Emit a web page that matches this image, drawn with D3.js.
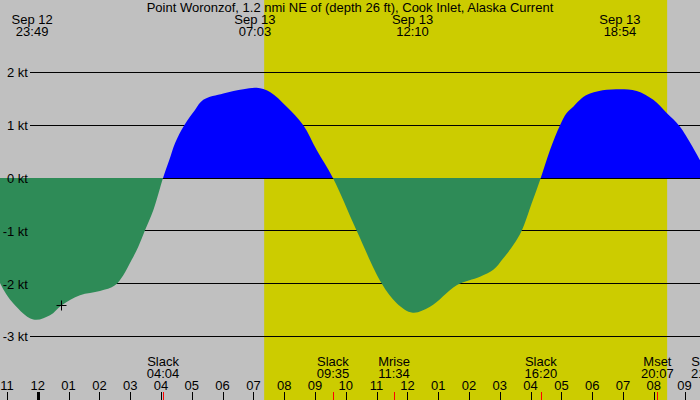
<!DOCTYPE html>
<html>
<head>
<meta charset="utf-8">
<script src="https://cdn.jsdelivr.net/npm/d3@7"></script>
<style>
body { margin: 0; }
svg { display: block; }
text { font-family: "Liberation Sans", Arial, sans-serif; font-size: 13px; fill: #000; }
</style>
</head>
<body>
<div id="chart"></div>
<script>
var title = "Point Woronzof, 1.2 nmi NE of (depth 26 ft), Cook Inlet, Alaska Current";

// hours counted from midnight Sep 13, current in knots (flood +, ebb -)
var hours = [-1.227, -0.903, -0.146, 0.396, 0.776, 1.370, 2.019, 2.506, 2.776, 3.049, 3.263, 3.474, 3.750, 4.067,
             4.269, 4.455, 4.756, 5.104, 5.373, 6.023, 6.672, 7.107, 7.539, 8.081, 8.620, 9.055, 9.583,
             10.354, 11.166, 11.653, 12.172, 12.734, 13.600, 14.357, 14.789, 15.114, 15.438, 15.711, 16.036, 16.330,
             16.630, 16.955, 17.172, 17.386, 17.659, 17.929, 18.471, 18.903, 19.445, 19.984, 20.419, 20.851, 21.500];
var knots = [-1.99, -2.30, -2.68, -2.60, -2.41, -2.22, -2.14, -2.03, -1.84, -1.55, -1.30, -1.00, -0.61, 0,
             0.34, 0.66, 1.00, 1.29, 1.48, 1.60, 1.68, 1.71, 1.63, 1.35, 1.00, 0.53, 0,
             -1.00, -2.00, -2.37, -2.55, -2.44, -2.03, -1.87, -1.74, -1.52, -1.27, -1.00, -0.48, 0,
             0.53, 1.00, 1.23, 1.35, 1.51, 1.60, 1.67, 1.68, 1.65, 1.48, 1.23, 0.97, 0.34];

var maxDays = ["Sep 12", "Sep 13", "Sep 13", "Sep 13"];
var maxTimes = ["23:49", "07:03", "12:10", "18:54"];
var eventNames = ["Slack", "Slack", "Mrise", "Slack", "Mset", "Slack"];
var eventTimes = ["04:04", "09:35", "11:34", "16:20", "20:07", "21:44"];
var kTicks = [-3, -2, -1, 0, 1, 2];
var hourTicks = d3.range(-1, 22);
var sunrise = "07:21", sunset = "20:26";
var markTime = "00:46", markKnots = -2.4;

var W = 700, H = 400;

function toHours(hm, day) {
    var p = hm.split(":");
    var h = +p[0] + p[1] / 60;
    return day === "Sep 12" ? h - 24 : h;
}

var x = d3.scaleLinear().domain([-1.227, 21.5]).range([0, W]);
var y = d3.scaleLinear().domain([0, 1]).range([178, 125.2]);

var svg = d3.select("#chart").append("svg").attr("width", W).attr("height", H);

svg.append("rect").attr("width", W).attr("height", H).attr("fill", "#c0c0c0");
svg.append("rect")
    .attr("x", x(toHours(sunrise))).attr("y", 0)
    .attr("width", x(toHours(sunset)) - x(toHours(sunrise))).attr("height", H)
    .attr("fill", "#cccc00");

// grid lines
svg.selectAll(".grid").data(kTicks).enter().append("line")
    .attr("x1", 30).attr("x2", W)
    .attr("y1", function(d) { return Math.floor(y(d)) + 0.5; })
    .attr("y2", function(d) { return Math.floor(y(d)) + 0.5; })
    .attr("stroke", "#000").attr("stroke-width", 1);

var defs = svg.append("defs");
defs.append("clipPath").attr("id", "above").append("rect")
    .attr("x", 0).attr("y", 0).attr("width", W).attr("height", Math.floor(y(0)));
defs.append("clipPath").attr("id", "below").append("rect")
    .attr("x", 0).attr("y", Math.floor(y(0))).attr("width", W).attr("height", H);

var pts = hours.map(function(h, i) { return [h, knots[i]]; });
var area = d3.area()
    .x(function(d) { return x(d[0]); })
    .y0(y(0))
    .y1(function(d) { return y(d[1]); })
    .curve(d3.curveCatmullRom.alpha(0.5));

svg.append("path").datum(pts).attr("d", area).attr("fill", "#0000ff").attr("clip-path", "url(#above)");
svg.append("path").datum(pts).attr("d", area).attr("fill", "#2e8b57").attr("clip-path", "url(#below)");

svg.selectAll(".klab").data(kTicks).enter().append("text")
    .attr("x", 28).attr("y", function(d) { return y(d) + 5; })
    .attr("text-anchor", "end")
    .text(function(d) { return d + " kt"; });

// marker
var mx = Math.round(x(toHours(markTime))) + 0.5, my = Math.round(y(markKnots)) + 0.5;
svg.append("path")
    .attr("d", "M" + (mx - 5) + "," + my + "H" + (mx + 5) + "M" + mx + "," + (my - 5) + "V" + (my + 5))
    .attr("stroke", "#000").attr("fill", "none");

// title
svg.append("text").attr("x", 350).attr("y", 12).attr("text-anchor", "middle").text(title);

// max current labels
maxTimes.forEach(function(t, i) {
    var cx = x(toHours(t, maxDays[i]));
    svg.append("text").attr("x", cx).attr("y", 24).attr("text-anchor", "middle").text(maxDays[i]);
    svg.append("text").attr("x", cx).attr("y", 36).attr("text-anchor", "middle").text(t);
});

// events
eventTimes.forEach(function(t, i) {
    var cx = x(toHours(t));
    svg.append("text").attr("x", cx).attr("y", 366).attr("text-anchor", "middle").text(eventNames[i]);
    svg.append("text").attr("x", cx).attr("y", 378).attr("text-anchor", "middle").text(t);
    svg.append("line")
        .attr("x1", Math.round(cx) + 0.5).attr("x2", Math.round(cx) + 0.5)
        .attr("y1", 392).attr("y2", H)
        .attr("stroke", "#ff0000");
});

// hour axis
hourTicks.forEach(function(h) {
    var cx = Math.round(x(h)) + 0.5;
    var lab = ((h + 24) % 12) || 12;
    svg.append("text").attr("x", x(h)).attr("y", 390).attr("text-anchor", "middle")
        .text(d3.format("02")(lab));
    svg.append("line")
        .attr("x1", cx).attr("x2", cx).attr("y1", 392).attr("y2", H)
        .attr("stroke", "#000").attr("stroke-width", h === 0 ? 3 : 1);
});
</script>
</body>
</html>
